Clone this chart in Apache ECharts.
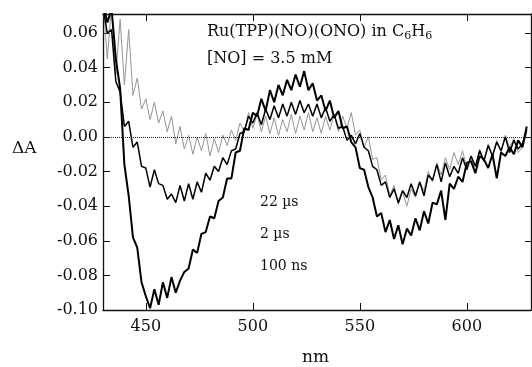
<!DOCTYPE html>
<html>
<head>
<meta charset="utf-8">
<script src="https://cdn.jsdelivr.net/npm/echarts@6/dist/echarts.min.js"></script>
<style>
  html, body { margin: 0; padding: 0; background: #fff; }
  #chart { width: 532px; height: 367px; }
</style>
</head>
<body>
<div id="chart"></div>
<script>
// wavelength (nm), 2 nm steps
const wavelengths = [
  430, 432, 434, 436, 438, 440, 442, 444, 446, 448,
  450, 452, 454, 456, 458, 460, 462, 464, 466, 468,
  470, 472, 474, 476, 478, 480, 482, 484, 486, 488,
  490, 492, 494, 496, 498, 500, 502, 504, 506, 508,
  510, 512, 514, 516, 518, 520, 522, 524, 526, 528,
  530, 532, 534, 536, 538, 540, 542, 544, 546, 548,
  550, 552, 554, 556, 558, 560, 562, 564, 566, 568,
  570, 572, 574, 576, 578, 580, 582, 584, 586, 588,
  590, 592, 594, 596, 598, 600, 602, 604, 606, 608,
  610, 612, 614, 616, 618, 620, 622, 624, 626, 628
];

// 100 ns
const dA_100ns = [
  0.078, 0.066, 0.074, 0.045, 0.028, -0.016, -0.034, -0.058, -0.064, -0.084,
  -0.092, -0.099, -0.088, -0.097, -0.084, -0.093, -0.081, -0.090, -0.083, -0.078,
  -0.076, -0.065, -0.067, -0.056, -0.055, -0.046, -0.047, -0.037, -0.035, -0.024,
  -0.024, -0.009, -0.008, 0.005, 0.004, 0.014, 0.012, 0.022, 0.015, 0.027,
  0.020, 0.030, 0.024, 0.033, 0.027, 0.036, 0.029, 0.038, 0.027, 0.031,
  0.021, 0.024, 0.015, 0.021, 0.011, 0.015, 0.005, 0.006, -0.003, -0.006,
  -0.018, -0.019, -0.029, -0.035, -0.046, -0.044, -0.055, -0.048, -0.059, -0.051,
  -0.062, -0.053, -0.057, -0.047, -0.054, -0.043, -0.050, -0.038, -0.039, -0.031,
  -0.048, -0.027, -0.030, -0.023, -0.026, -0.015, -0.014, -0.021, -0.011, -0.013,
  -0.018, -0.010, -0.024, -0.009, -0.011, -0.006, -0.010, -0.002, -0.006, 0.006
];

// 2 µs
const dA_2us = [
  0.075, 0.060, 0.062, 0.032, 0.026, 0.006, 0.009, -0.006, -0.003, -0.017,
  -0.018, -0.029, -0.019, -0.027, -0.028, -0.036, -0.033, -0.038, -0.028, -0.037,
  -0.027, -0.036, -0.026, -0.032, -0.021, -0.025, -0.017, -0.020, -0.012, -0.016,
  -0.008, -0.007, 0.002, 0.003, 0.012, 0.008, 0.014, 0.007, 0.016, 0.010,
  0.018, 0.011, 0.019, 0.012, 0.020, 0.013, 0.021, 0.014, 0.019, 0.012,
  0.019, 0.011, 0.017, 0.009, 0.013, 0.005, 0.006, -0.002, 0.001, -0.004,
  0.002, -0.006, -0.008, -0.017, -0.019, -0.028, -0.026, -0.035, -0.030, -0.038,
  -0.031, -0.035, -0.027, -0.034, -0.026, -0.034, -0.022, -0.025, -0.016, -0.026,
  -0.015, -0.023, -0.017, -0.021, -0.012, -0.019, -0.011, -0.017, -0.008, -0.014,
  -0.005, -0.011, -0.003, -0.008, 0.000, -0.009, -0.002, -0.007, -0.004, 0.004
];

// 22 µs
const dA_22us = [
  0.080, 0.045, 0.076, 0.036, 0.068, 0.030, 0.062, 0.024, 0.034, 0.016,
  0.022, 0.010, 0.020, 0.008, 0.015, 0.003, 0.012, -0.004, 0.006, -0.007,
  0.001, -0.010, 0.000, -0.008, 0.002, -0.011, -0.001, -0.009, 0.001, -0.005,
  0.004, -0.002, 0.008, 0.003, 0.014, 0.005, 0.013, 0.003, 0.012, 0.002,
  0.011, 0.001, 0.010, 0.003, 0.013, 0.002, 0.012, 0.004, 0.014, 0.003,
  0.011, 0.002, 0.012, 0.004, 0.013, 0.003, 0.012, 0.005, 0.014, 0.001,
  0.004, -0.006, 0.000, -0.013, -0.012, -0.025, -0.022, -0.034, -0.028, -0.039,
  -0.032, -0.040, -0.030, -0.035, -0.026, -0.031, -0.020, -0.026, -0.015, -0.022,
  -0.012, -0.019, -0.009, -0.016, -0.008, -0.018, -0.011, -0.021, -0.007, -0.014,
  -0.004, -0.011, -0.002, -0.009, 0.001, -0.006, -0.001, -0.009, -0.006, 0.002
];

const xTicks = [450, 500, 550, 600];
const yTicks = [-0.10, -0.08, -0.06, -0.04, -0.02, 0.00, 0.02, 0.04, 0.06];

const FONT = 'DejaVu Serif';

const pairs = (ys) => wavelengths.map((w, i) => [w, ys[i]]);

const chart = echarts.init(document.getElementById('chart'));

const axisLine = { show: true, onZero: false, lineStyle: { color: '#111', width: 1.3 } };

chart.setOption({
  animation: false,
  backgroundColor: '#fff',
  grid: { left: 103, right: 1, top: 14, bottom: 57, containLabel: false, outerBoundsMode: 'none' },
  xAxis: [
    {
      type: 'value', min: 430, max: 630, position: 'bottom',
      axisLine: axisLine,
      splitLine: { show: false },
      axisTick: { inside: true, length: 7, customValues: xTicks, lineStyle: { color: '#111' } },
      axisLabel: { customValues: xTicks, margin: 9, color: '#111', fontFamily: FONT, fontSize: 16 }
    },
    {
      type: 'value', min: 430, max: 630, position: 'top',
      axisLine: axisLine,
      splitLine: { show: false },
      axisTick: { inside: true, length: 7, customValues: xTicks, lineStyle: { color: '#111' } },
      axisLabel: { show: false }
    }
  ],
  yAxis: [
    {
      type: 'value', min: -0.10, max: 0.071, position: 'left',
      axisLine: axisLine,
      splitLine: { show: false },
      axisTick: { inside: true, length: 7, customValues: yTicks, lineStyle: { color: '#111' } },
      axisLabel: {
        customValues: yTicks, margin: 5, color: '#111', fontFamily: FONT, fontSize: 16,
        formatter: (v) => v.toFixed(2)
      }
    },
    {
      type: 'value', min: -0.10, max: 0.071, position: 'right',
      axisLine: axisLine,
      splitLine: { show: false },
      axisTick: { inside: true, length: 6, customValues: yTicks, lineStyle: { color: '#111' } },
      axisLabel: { show: false }
    }
  ],
  series: [
    {
      name: '22 µs', type: 'line', data: pairs(dA_22us),
      showSymbol: false, lineStyle: { color: '#959595', width: 1 },
      markLine: {
        silent: true, symbol: 'none', label: { show: false },
        lineStyle: { color: '#222', type: 'dotted', width: 1 },
        data: [{ yAxis: 0 }]
      }
    },
    {
      name: '2 µs', type: 'line', data: pairs(dA_2us),
      showSymbol: false, lineStyle: { color: '#000', width: 1.5 }
    },
    {
      name: '100 ns', type: 'line', data: pairs(dA_100ns),
      showSymbol: false, lineStyle: { color: '#000', width: 2 }
    }
  ],
  graphic: [
    {
      type: 'text', left: 207, top: 24,
      style: {
        text: 'Ru(TPP)(NO)(ONO) in C{s|6}H{s|6}',
        fontFamily: FONT, fontSize: 16, fill: '#111',
        rich: { s: { fontFamily: FONT, fontSize: 11, fill: '#111', padding: [8, 0, 0, 0] } }
      }
    },
    { type: 'text', left: 207, top: 51, style: { text: '[NO] = 3.5 mM', fontFamily: FONT, fontSize: 16, fill: '#111' } },
    { type: 'text', left: 260, top: 195, style: { text: '22 µs', fontFamily: FONT, fontSize: 14, fill: '#111' } },
    { type: 'text', left: 260, top: 227, style: { text: '2 µs', fontFamily: FONT, fontSize: 14, fill: '#111' } },
    { type: 'text', left: 260, top: 259, style: { text: '100 ns', fontFamily: FONT, fontSize: 14, fill: '#111' } },
    { type: 'text', left: 12, top: 140, style: { text: 'ΔA', fontFamily: FONT, fontSize: 17, fill: '#111' } },
    { type: 'text', left: 302, top: 349, style: { text: 'nm', fontFamily: FONT, fontSize: 17, fill: '#111' } }
  ]
});
</script>
</body>
</html>
